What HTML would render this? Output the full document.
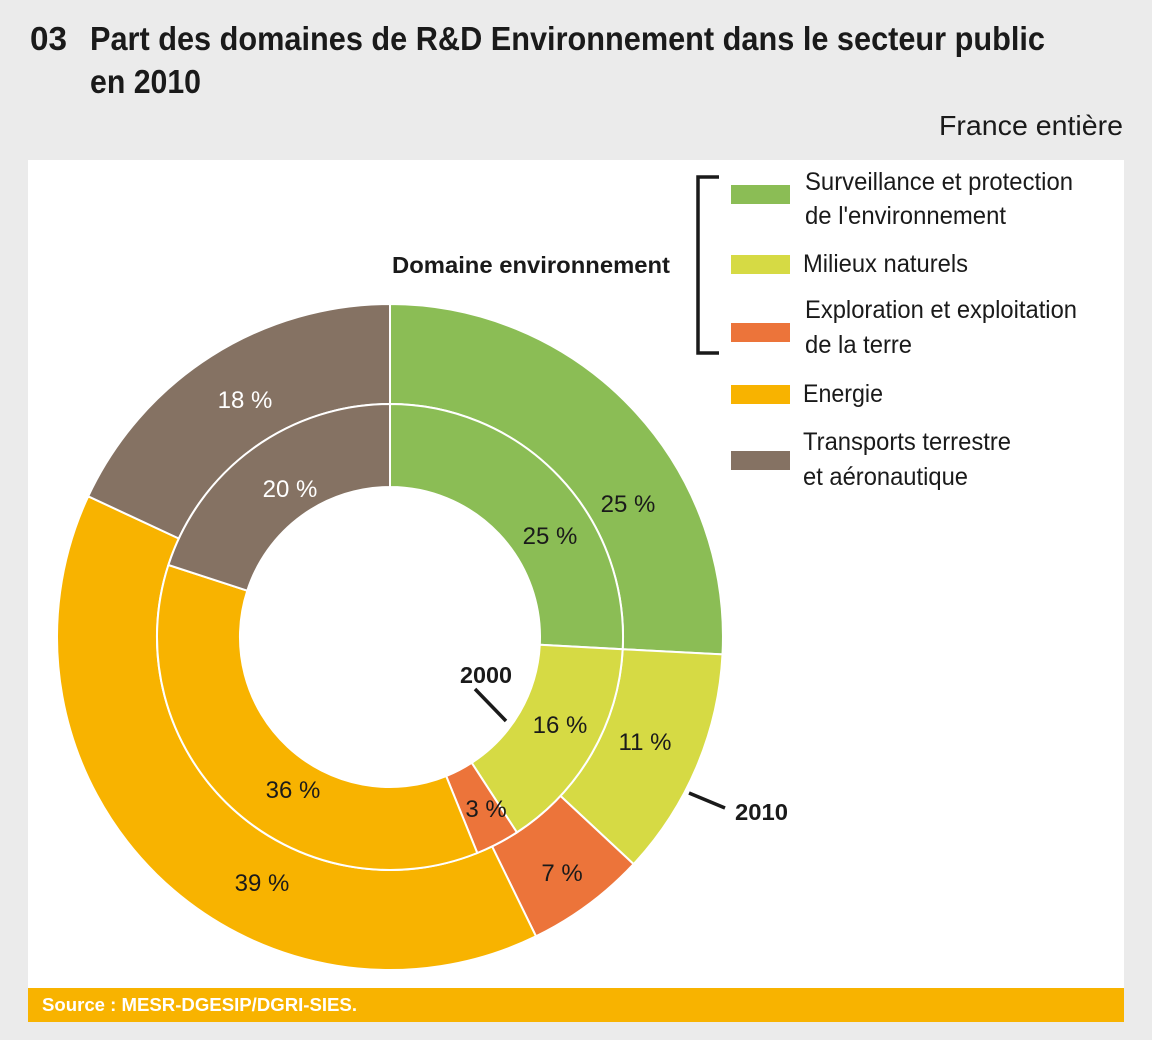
<!DOCTYPE html>
<html><head><meta charset="utf-8"><style>html,body{margin:0;padding:0;background:#ebebeb}svg{display:block}text{font-family:"Liberation Sans",sans-serif}</style></head>
<body>
<svg width="1152" height="1040" viewBox="0 0 1152 1040" xmlns="http://www.w3.org/2000/svg">
<rect width="1152" height="1040" fill="#ebebeb"/>
<rect x="28" y="160" width="1096" height="828" fill="#fff"/>
<rect x="28" y="988" width="1096" height="34" fill="#f8b300"/>
<text x="42" y="1011" font-size="18" font-weight="bold" fill="#fff" textLength="315" lengthAdjust="spacingAndGlyphs">Source : MESR-DGESIP/DGRI-SIES.</text>
<g font-weight="bold" font-size="33" fill="#1a1a1a">
<text x="30" y="50" textLength="37" lengthAdjust="spacingAndGlyphs">03</text>
<text x="90" y="50" textLength="955" lengthAdjust="spacingAndGlyphs">Part des domaines de R&amp;D Environnement dans le secteur public</text>
<text x="90" y="93" textLength="111" lengthAdjust="spacingAndGlyphs">en 2010</text>
</g>
<text x="1123" y="135" font-size="28" text-anchor="end" fill="#1a1a1a" textLength="184" lengthAdjust="spacingAndGlyphs">France entière</text>
<g stroke="#fff" stroke-width="2">
<path d="M390,404 L390,304 A333,333 0 0 1 722.5,654.4 L622.7,649.2 A233,233 0 0 0 390,404Z" fill="#8bbd55"/>
<path d="M622.7,649.2 L722.5,654.4 A333,333 0 0 1 633.6,864.1 L560.4,795.9 A233,233 0 0 0 622.7,649.2Z" fill="#d6da44"/>
<path d="M560.4,795.9 L633.6,864.1 A333,333 0 0 1 536,936.3 L492.1,846.4 A233,233 0 0 0 560.4,795.9Z" fill="#ec743a"/>
<path d="M492.1,846.4 L536,936.3 A333,333 0 0 1 88.2,496.3 L178.8,538.5 A233,233 0 0 0 492.1,846.4Z" fill="#f8b300"/>
<path d="M178.8,538.5 L88.2,496.3 A333,333 0 0 1 390,304 L390,404 A233,233 0 0 0 178.8,538.5Z" fill="#857263"/>
<path d="M390,487 L390,404 A233,233 0 0 1 622.7,649.2 L539.8,644.8 A150,150 0 0 0 390,487Z" fill="#8bbd55"/>
<path d="M539.8,644.8 L622.7,649.2 A233,233 0 0 1 516.9,832.4 L471.7,762.8 A150,150 0 0 0 539.8,644.8Z" fill="#d6da44"/>
<path d="M471.7,762.8 L516.9,832.4 A233,233 0 0 1 477.3,853 L446.2,776.1 A150,150 0 0 0 471.7,762.8Z" fill="#ec743a"/>
<path d="M446.2,776.1 L477.3,853 A233,233 0 0 1 168.4,565 L247.3,590.7 A150,150 0 0 0 446.2,776.1Z" fill="#f8b300"/>
<path d="M247.3,590.7 L168.4,565 A233,233 0 0 1 390,404 L390,487 A150,150 0 0 0 247.3,590.7Z" fill="#857263"/>
</g>
<g font-size="24" fill="#1a1a1a" text-anchor="middle">
<text x="628" y="512">25 %</text>
<text x="645" y="750">11 %</text>
<text x="562" y="881">7 %</text>
<text x="262" y="891">39 %</text>
<text x="245" y="408" fill="#fff">18 %</text>
<text x="550" y="544">25 %</text>
<text x="560" y="733">16 %</text>
<text x="486" y="817">3 %</text>
<text x="293" y="798">36 %</text>
<text x="290" y="497" fill="#fff">20 %</text>
</g>
<g font-weight="bold" font-size="23" fill="#1a1a1a">
<text x="392" y="273" textLength="278" lengthAdjust="spacingAndGlyphs">Domaine environnement</text>
<text x="460" y="683" textLength="52" lengthAdjust="spacingAndGlyphs">2000</text>
<text x="735" y="820" textLength="53" lengthAdjust="spacingAndGlyphs">2010</text>
</g>
<g stroke="#1a1a1a" stroke-width="3.5" fill="none">
<line x1="475" y1="689" x2="506" y2="721"/>
<line x1="689" y1="793" x2="725" y2="808"/>
<path d="M719,177 L698,177 L698,353 L719,353"/>
</g>
<rect x="731" y="185" width="59" height="19" fill="#8bbd55"/>
<rect x="731" y="255" width="59" height="19" fill="#d6da44"/>
<rect x="731" y="323" width="59" height="19" fill="#ec743a"/>
<rect x="731" y="385" width="59" height="19" fill="#f8b300"/>
<rect x="731" y="451" width="59" height="19" fill="#857263"/>
<g font-size="25" fill="#1a1a1a">
<text x="805" y="190" textLength="268" lengthAdjust="spacingAndGlyphs">Surveillance et protection</text>
<text x="805" y="224" textLength="201" lengthAdjust="spacingAndGlyphs">de l'environnement</text>
<text x="803" y="272" textLength="165" lengthAdjust="spacingAndGlyphs">Milieux naturels</text>
<text x="805" y="318" textLength="272" lengthAdjust="spacingAndGlyphs">Exploration et exploitation</text>
<text x="805" y="353" textLength="107" lengthAdjust="spacingAndGlyphs">de la terre</text>
<text x="803" y="402" textLength="80" lengthAdjust="spacingAndGlyphs">Energie</text>
<text x="803" y="450" textLength="208" lengthAdjust="spacingAndGlyphs">Transports terrestre</text>
<text x="803" y="485" textLength="165" lengthAdjust="spacingAndGlyphs">et aéronautique</text>
</g>
</svg>
</body></html>
